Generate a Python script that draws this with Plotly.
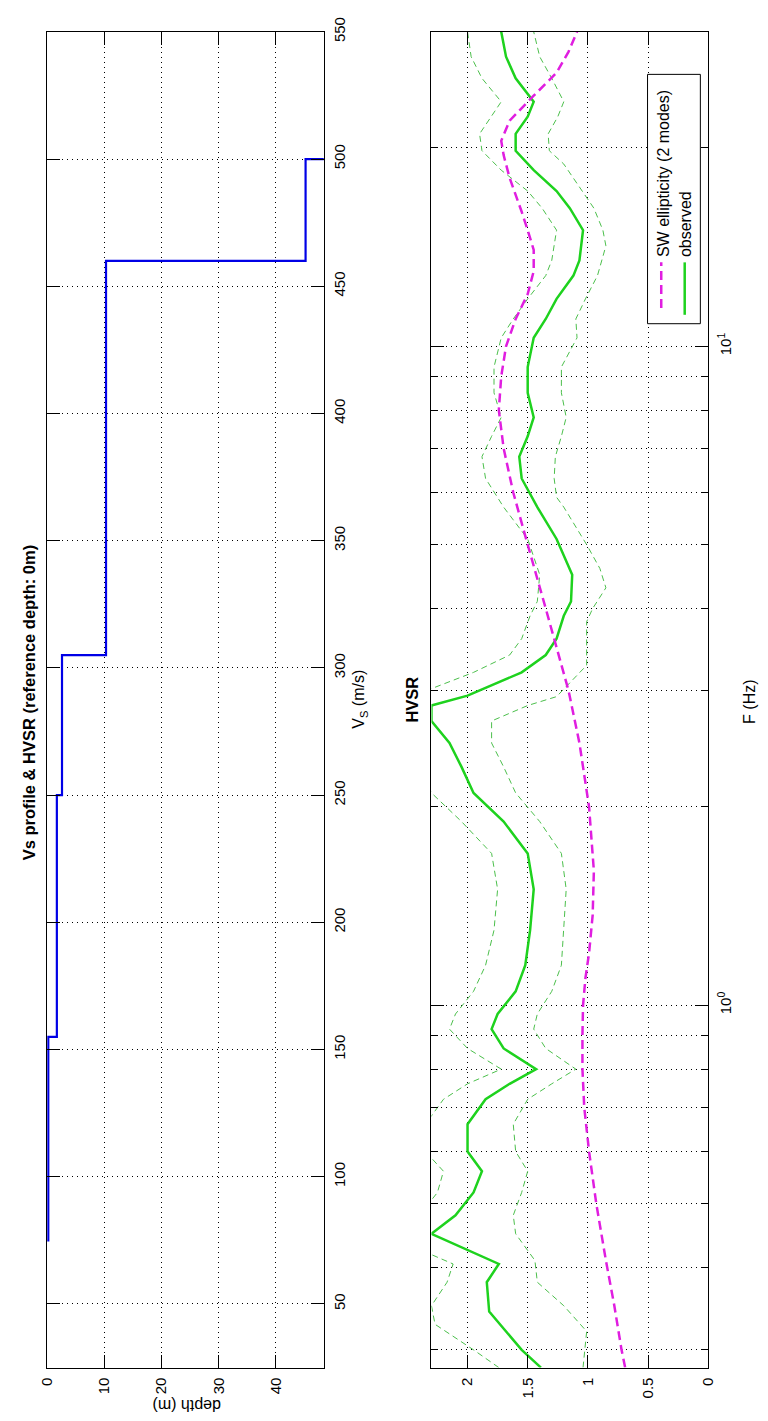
import numpy as np
import plotly.graph_objects as go

W, H = 768, 1421

# ---------------- data ----------------
# Vs profile (layer velocities and top depths)
layer_vs = [75, 155, 250, 305, 460, 500]
layer_top = [0.0, 0.2, 1.7, 2.6, 10.3, 45.2]
depth_max = 48.4
depth_ticks = [0, 10, 20, 30, 40]
vs_ticks = [50, 100, 150, 200, 250, 300, 350, 400, 450, 500, 550]

# HVSR observed mean
obs_f = [0.282, 0.30, 0.343, 0.38, 0.405, 0.43, 0.45, 0.48, 0.52, 0.56, 0.60, 0.66, 0.72, 0.76,
         0.80, 0.86, 0.92, 0.97, 1.05, 1.15, 1.30, 1.50, 1.70, 1.90, 2.10, 2.30, 2.50, 2.70,
         2.85, 2.95, 3.20, 3.40, 3.60, 3.90, 4.10, 4.50, 5.10, 5.70, 6.30, 6.80, 7.30, 7.80, 8.50,
         9.30, 10.3, 11.0, 11.8, 12.8, 13.5, 15.0, 16.2, 17.2, 18.5, 19.8, 21.0, 22.3, 23.5, 25.5,
         27.5, 30.0]
obs_a = [1.39, 1.55, 1.82, 1.84, 1.74, 2.05, 2.30, 2.10, 1.95, 1.88, 2.00, 2.00, 1.85, 1.65,
         1.43, 1.70, 1.80, 1.75, 1.60, 1.52, 1.48, 1.45, 1.50, 1.70, 1.95, 2.05, 2.15, 2.30,
         2.30, 2.00, 1.55, 1.35, 1.26, 1.20, 1.14, 1.13, 1.26, 1.42, 1.55, 1.57, 1.50, 1.45, 1.50,
         1.50, 1.45, 1.35, 1.26, 1.12, 1.07, 1.04, 1.15, 1.26, 1.45, 1.60, 1.60, 1.50, 1.45, 1.60,
         1.68, 1.72]
# observed mean + std
up_f = [0.282, 0.30, 0.328, 0.35, 0.38, 0.405, 0.43, 0.48, 0.52, 0.56, 0.60, 0.66, 0.72, 0.76,
        0.80, 0.86, 0.92, 0.97, 1.05, 1.15, 1.30, 1.50, 1.70, 1.90, 2.10, 2.30, 2.50, 2.70,
        2.85, 2.95, 3.20, 3.40, 3.60, 3.90, 4.10, 4.50, 5.10, 5.70, 6.30, 6.80, 7.30, 7.80, 8.50,
        9.30, 10.3, 11.0, 11.8, 12.8, 13.5, 15.0, 16.2, 17.2, 18.5, 19.8, 21.0, 22.3, 23.5, 25.5,
        27.5, 30.0]
up_a = [1.74, 1.95, 2.27, 2.30, 2.17, 2.12, 2.45, 2.40, 2.25, 2.20, 2.35, 2.35, 2.20, 2.00,
        1.72, 2.00, 2.15, 2.10, 1.95, 1.85, 1.78, 1.75, 1.80, 2.05, 2.30, 2.40, 2.45, 2.60,
        2.60, 2.45, 1.95, 1.65, 1.55, 1.48, 1.42, 1.40, 1.50, 1.70, 1.85, 1.88, 1.80, 1.72, 1.78,
        1.78, 1.72, 1.62, 1.50, 1.35, 1.30, 1.26, 1.38, 1.50, 1.72, 1.88, 1.90, 1.80, 1.72, 1.88,
        1.97, 2.00]
# observed mean - std
lo_f = [0.282, 0.295, 0.32, 0.35, 0.38, 0.41, 0.45, 0.48, 0.52, 0.56, 0.60, 0.66, 0.72, 0.76,
        0.80, 0.86, 0.92, 0.97, 1.05, 1.15, 1.30, 1.50, 1.70, 1.90, 2.10, 2.30, 2.50, 2.70,
        2.85, 2.94, 3.28, 3.82, 4.00, 4.30, 4.60, 5.00, 5.70, 5.90, 6.30, 6.80, 7.30, 7.80, 8.50,
        9.30, 10.3, 11.0, 11.8, 12.8, 14.2, 15.0, 16.2, 17.2, 18.9, 19.8, 21.0, 22.3, 23.5, 25.5,
        27.5, 30.0]
lo_a = [1.04, 1.03, 1.01, 1.20, 1.42, 1.44, 1.60, 1.62, 1.55, 1.50, 1.60, 1.62, 1.50, 1.30,
        1.10, 1.35, 1.45, 1.42, 1.30, 1.22, 1.20, 1.18, 1.22, 1.40, 1.60, 1.70, 1.80, 1.80,
        1.50, 1.26, 1.01, 1.01, 0.96, 0.85, 0.90, 1.01, 1.20, 1.26, 1.28, 1.27, 1.22, 1.18, 1.22,
        1.22, 1.09, 1.10, 1.02, 0.92, 0.85, 0.875, 0.95, 1.05, 1.20, 1.32, 1.33, 1.25, 1.20, 1.30,
        1.40, 1.45]
# SW ellipticity (2 modes)
ell_f = [0.282, 0.30, 0.35, 0.41, 0.50, 0.60, 0.70, 0.80, 0.90, 1.00, 1.10, 1.20, 1.37, 1.60,
         2.00, 2.50, 3.00, 3.50, 4.00, 5.00, 6.00, 7.00, 8.00, 9.00, 10.0, 11.0, 12.0, 13.0, 14.0,
         15.0, 16.0, 18.0, 19.5, 20.5, 22.0, 24.0, 26.0, 28.0, 30.0]
ell_a = [0.69, 0.72, 0.78, 0.85, 0.93, 0.99, 1.03, 1.045, 1.045, 1.04, 1.02, 0.99, 0.96, 0.95,
         0.99, 1.07, 1.16, 1.26, 1.35, 1.50, 1.62, 1.70, 1.74, 1.72, 1.68, 1.60, 1.50, 1.45, 1.45,
         1.50, 1.55, 1.65, 1.70, 1.72, 1.65, 1.45, 1.26, 1.16, 1.09]

amp_ticks = [0, 0.5, 1, 1.5, 2]
amp_text = ["0", "0.5", "1", "1.5", "2"]
f_major = [1, 10]
f_major_text = ["10<sup>0</sup>", "10<sup>1</sup>"]
f_minor = [0.3, 0.4, 0.5, 0.6, 0.7, 0.8, 0.9, 2, 3, 4, 5, 6, 7, 8, 9, 20, 30]

# ---------------- geometry helpers ----------------
def px(x):
    return x / W

def py(y):
    return 1 - y / H

# Vs staircase
step_d, step_v = [], []
for i, v in enumerate(layer_vs):
    top = layer_top[i]
    bot = layer_top[i + 1] if i + 1 < len(layer_top) else depth_max
    step_d += [top, bot]
    step_v += [v, v]

fig = go.Figure()
fig.add_trace(go.Scatter(x=step_d, y=step_v, mode="lines", xaxis="x", yaxis="y",
                         line=dict(color="#0000e6", width=2.2), showlegend=False))

green = "#1ed21e"
magenta = "#e01ee0"
fig.add_trace(go.Scatter(x=up_a, y=up_f, mode="lines", xaxis="x2", yaxis="y2",
                         line=dict(color="#4cbf4c", width=1, dash="6px,4px"), showlegend=False))
fig.add_trace(go.Scatter(x=lo_a, y=lo_f, mode="lines", xaxis="x2", yaxis="y2",
                         line=dict(color="#4cbf4c", width=1, dash="6px,4px"), showlegend=False))
fig.add_trace(go.Scatter(x=obs_a, y=obs_f, mode="lines", xaxis="x2", yaxis="y2",
                         line=dict(color=green, width=2.5), showlegend=False))
fig.add_trace(go.Scatter(x=ell_a, y=ell_f, mode="lines", xaxis="x2", yaxis="y2",
                         line=dict(color=magenta, width=2.5, dash="9px,5px"), showlegend=False))

FONT = "Liberation Sans, Arial, sans-serif"
tickfont = dict(family=FONT, size=15, color="black")
grid = dict(showgrid=True, gridcolor="black", gridwidth=1, griddash="1px,4px",
            showline=True, linecolor="black", linewidth=1, mirror="ticks",
            ticks="inside", ticklen=13, tickcolor="black", zeroline=False,
            tickfont=tickfont, tickangle=-90)

left_dom = [px(39), px(322)]
right_dom = [px(432), px(715)]
ydom = [py(1367), py(17)]

fig.update_layout(
    width=W, height=H, margin=dict(l=0, r=0, t=0, b=0),
    paper_bgcolor="white", plot_bgcolor="white", showlegend=False,
    xaxis=dict(domain=left_dom, range=[0, depth_max], tickmode="array", tickvals=depth_ticks,
               anchor="y", side="bottom", ticklabelstandoff=3, **grid),
    yaxis=dict(domain=ydom, range=[25, 550], tickmode="array", tickvals=vs_ticks,
               anchor="x", side="right", ticklabelstandoff=2, **grid),
    xaxis2=dict(domain=right_dom, range=[2.3, 0], tickmode="array", tickvals=amp_ticks,
                ticktext=amp_text, anchor="y2", side="bottom", ticklabelstandoff=3, **grid),
    yaxis2=dict(domain=ydom, type="log", range=[np.log10(0.282), np.log10(30)],
                tickmode="array", tickvals=f_major, ticktext=f_major_text,
                anchor="x2", side="right", ticklabelstandoff=4,
                minor=dict(tickmode="array", tickvals=f_minor, ticks="inside", ticklen=7,
                           tickcolor="black", showgrid=True, gridcolor="black",
                           griddash="1px,4px", gridwidth=1),
                **grid),
)

ann_font = dict(family=FONT, size=16, color="black")
bold_font = dict(family=FONT, size=16.5, color="black")
annotations = [
    dict(text="<b>Vs profile &amp; HVSR (reference depth: 0m)</b>", x=px(20), y=py(695),
         textangle=-90, font=bold_font),
    dict(text="depth (m)", x=px(182), y=py(1406), textangle=180, font=ann_font),
    dict(text="V<sub>S</sub> (m/s)", x=px(359), y=py(692), textangle=-90, font=ann_font),
    dict(text="<b>HVSR</b>", x=px(412), y=py(692), textangle=-90, font=bold_font),
    dict(text="F (Hz)", x=px(757), y=py(694), textangle=-90, font=ann_font),
    dict(text="SW ellipticity (2 modes)", x=px(670), y=py(247), textangle=-90,
         yanchor="bottom", xanchor="center", font=ann_font),
    dict(text="observed", x=px(692), y=py(247), textangle=-90,
         yanchor="bottom", xanchor="center", font=ann_font),
]
for a in annotations:
    a.setdefault("xanchor", "center")
    a.setdefault("yanchor", "middle")
    a.update(xref="paper", yref="paper", showarrow=False)
fig.update_layout(annotations=annotations)

shapes = [
    dict(type="rect", x0=px(653), x1=px(707), y0=py(312), y1=py(60), xref="paper", yref="paper",
         line=dict(color="black", width=1), fillcolor="white", layer="above"),
    dict(type="line", x0=px(667), x1=px(667), y0=py(296), y1=py(250), xref="paper", yref="paper",
         line=dict(color=magenta, width=2.5, dash="9px,5px"), layer="above"),
    dict(type="line", x0=px(691), x1=px(691), y0=py(303), y1=py(250), xref="paper", yref="paper",
         line=dict(color=green, width=2.5), layer="above"),
]
fig.update_layout(shapes=shapes)

fig.write_html("out.html")
